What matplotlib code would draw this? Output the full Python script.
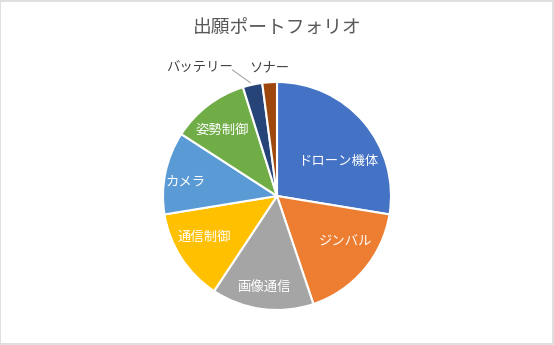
import matplotlib.pyplot as plt
from matplotlib.patches import Rectangle

plt.rcParams['font.family'] = ['Noto Sans CJK JP', 'DejaVu Sans']

title = '出願ポートフォリオ'
categories = ['ドローン機体', 'ジンバル', '画像通信', '通信制御',
              'カメラ', '姿勢制御', 'バッテリー', 'ソナー']
counts = [40, 25, 21, 19, 17, 16, 4, 3]

colors = ['#4472C4', '#ED7D31', '#A5A5A5', '#FFC000',
          '#5B9BD5', '#70AD47', '#264478', '#9E480E']

# label placement, in units of the pie radius (x, y from centre)
label_pos = [(0.54, 0.31), (0.60, -0.40), (-0.11, -0.80), (-0.64, -0.36),
             (-0.80, 0.13), (-0.48, 0.58), (-0.68, 1.12), (-0.07, 1.13)]
inside = [True, True, True, True, True, True, False, False]


def main():
    fig = plt.figure(figsize=(5.54, 3.45), dpi=100)
    fig.patch.set_facecolor('white')
    fig.add_artist(Rectangle((0.0009, 0.0015), 0.9964, 0.995, transform=fig.transFigure,
                             fill=False, edgecolor='#D9D9D9', linewidth=1.2))

    # pie radius 114 px, centre at (277, 196) px
    r = 114
    cx, cy = 277, 196
    W, H = 554, 345
    ax = fig.add_axes([(cx - r) / W, (H - cy - r) / H, 2 * r / W, 2 * r / H])
    ax.pie(counts, colors=colors, startangle=90, counterclock=False,
           wedgeprops=dict(edgecolor='white', linewidth=1.5))
    ax.set_xlim(-1, 1)
    ax.set_ylim(-1, 1)
    ax.set_aspect('equal')
    ax.axis('off')

    for name, (x, y), ins in zip(categories, label_pos, inside):
        ax.text(x, y, name, ha='center', va='center', fontsize=9.6,
                color='white' if ins else '#404040', clip_on=False)

    # leader line for the small outside label
    ax.plot([-0.39, -0.235], [1.105, 0.995], color='#A6A6A6', linewidth=0.8,
            clip_on=False)

    fig.text(0.5, 1 - 27 / H, title, ha='center', va='center', fontsize=13.5,
             color='#595959')

    fig.savefig('out.png', dpi=100)


if __name__ == '__main__':
    main()
